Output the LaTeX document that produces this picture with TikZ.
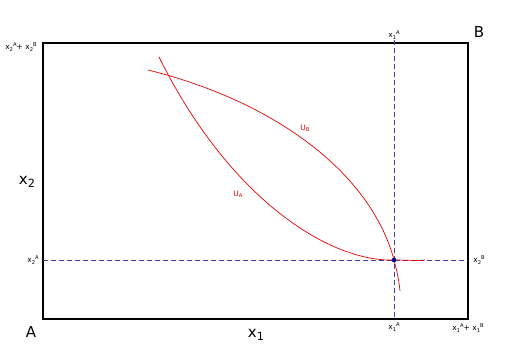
\documentclass[tikz,border=0pt]{standalone}
\usepackage{fontspec}
\setmainfont{DejaVu Sans}
\newcommand{\lo}[1]{\raisebox{-0.35ex}{\scalebox{0.7}{#1}}}
\newcommand{\hi}[1]{\raisebox{0.75ex}{\scalebox{0.7}{#1}}}
\begin{document}
\begin{tikzpicture}[x=1pt,y=-1pt,
  boxline/.style={line width=1.6pt,black},
  guide/.style={color=blue!55!black!75,line width=0.8pt,dash pattern=on 5pt off 3pt},
  util/.style={color=red!90!black,line width=0.7pt},
  small/.style={font=\fontsize{7.5}{8}\selectfont,inner sep=0pt},
  big/.style={font=\fontsize{15}{17}\selectfont,inner sep=0pt},
  ulab/.style={font=\fontsize{7.5}{8}\selectfont,inner sep=0pt,text=red!90!black}]
\useasboundingbox (0,0) rectangle (512,362);
\fill[white] (0,0) rectangle (512,362);
% box
\coordinate (A0) at (43,319);
\coordinate (B0) at (468,43);
\draw[boxline] (A0) rectangle (B0);
% dashed guides
\coordinate (vt) at (394,40);
\coordinate (vb) at (394,320);
\coordinate (hl) at (43,260);
\coordinate (hr) at (468,260);
\draw[guide] (vt) -- (vb);
\draw[guide] (hl) -- (hr);
% curves
\coordinate (P) at (394,260);
\coordinate (c1s) at (159,57);
\coordinate (c1e) at (425,260);
\coordinate (c2s) at (148,70);
\coordinate (c2e) at (400,291);
\draw[util] (c1s) .. controls (230,200) and (330,262) .. (P) .. controls (405,260) and (415,261) .. (c1e);
\draw[util] (c2s) .. controls (270,100) and (370,170) .. (P) .. controls (397,271) and (399,281) .. (c2e);
\fill[blue!50!black] (P) circle (2.3pt);
% labels
\node[ulab] (ua) at (238,194) {U\lo{A}};
\node[ulab] (ub) at (305,128) {U\lo{B}};
\node[small] (tl) at (21,47) {x\lo{2}\hi{A}+ x\lo{2}\hi{B}};
\node[small] (tx1) at (394,35) {x\lo{1}\hi{A}};
\node[small] (lx2) at (33,260) {x\lo{2}\hi{A}};
\node[small] (rx2) at (479,260) {x\lo{2}\hi{B}};
\node[small] (bx1) at (394,327) {x\lo{1}\hi{A}};
\node[small] (br) at (468,328) {x\lo{1}\hi{A}+ x\lo{1}\hi{B}};
\node[big] (Bl) at (479,32) {B};
\node[big] (Al) at (31,332) {A};
\node[big] (x1l) at (256,335) {x\raisebox{-0.35ex}{\scalebox{0.75}{1}}};
\node[big] (x2l) at (27,182) {x\raisebox{-0.35ex}{\scalebox{0.75}{2}}};
\end{tikzpicture}
\end{document}
